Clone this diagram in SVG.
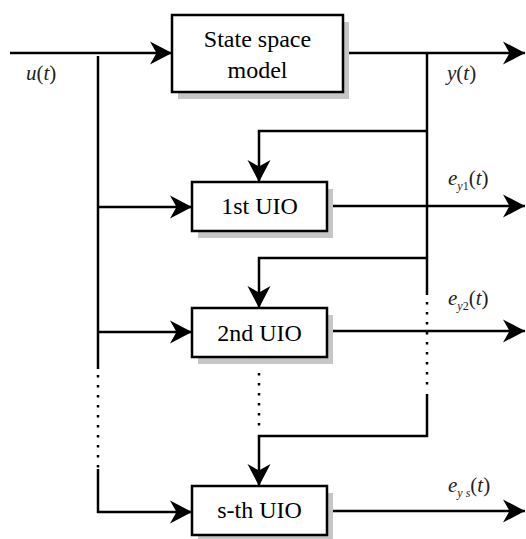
<svg xmlns="http://www.w3.org/2000/svg" width="526" height="539" viewBox="0 0 526 539">
<defs>
<marker id="arr" viewBox="-1 -13 24 26" refX="22" refY="0" markerWidth="24" markerHeight="26" markerUnits="userSpaceOnUse" orient="auto">
<path d="M0,-11.5 L22,0 L0,11.5 L6.5,0 Z" fill="#000"/>
</marker>
</defs>
<style>
.box{fill:#fff;stroke:#000;stroke-width:2.5}
.sh{fill:#c6c6c6}
.ln{fill:none;stroke:#000;stroke-width:2.5}
.dot{fill:none;stroke:#000;stroke-width:2.5;stroke-dasharray:2.5 7.5}
text{font-family:'Liberation Serif','Times New Roman',serif}
.lbl{font-size:24px;fill:#000;text-anchor:middle}
.math{font-size:21px;fill:#222}
.it{font-style:italic}
.sub{font-style:italic;font-size:12px}
.subn{font-size:12px}
</style>
<g id="connectors">
<path class="ln" d="M10,53 H172" marker-end="url(#arr)"/>
<path class="ln" d="M343,53 H525" marker-end="url(#arr)"/>
<path class="ln" d="M98,56 V369"/>
<path class="dot" d="M98,375 V470"/>
<path class="ln" d="M98,469 V512 H192" marker-end="url(#arr)"/>
<path class="ln" d="M98,207 H192" marker-end="url(#arr)"/>
<path class="ln" d="M98,332 H192" marker-end="url(#arr)"/>
<path class="ln" d="M427,53 V295"/>
<path class="dot" d="M427,302 V388"/>
<path class="ln" d="M427,394 V436 H259 V486" marker-end="url(#arr)"/>
<path class="ln" d="M427,131 H259 V182" marker-end="url(#arr)"/>
<path class="ln" d="M427,258 H259 V308" marker-end="url(#arr)"/>
<path class="dot" d="M259,373 V428"/>
<path class="ln" d="M327,206 H525" marker-end="url(#arr)"/>
<path class="ln" d="M327,331 H525" marker-end="url(#arr)"/>
<path class="ln" d="M327,511 H525" marker-end="url(#arr)"/>
</g>
<g id="ssm">
<rect class="sh" x="178" y="22" width="171" height="77"/>
<rect class="box" x="172" y="15" width="171" height="77"/>
<text class="lbl" x="257.5" y="47">State space</text>
<text class="lbl" x="257.5" y="78">model</text>
</g>
<g id="uio1">
<rect class="sh" x="198" y="189" width="135" height="49"/>
<rect class="box" x="192" y="182" width="135" height="49"/>
<text class="lbl" x="259.5" y="214">1st UIO</text>
</g>
<g id="uio2">
<rect class="sh" x="198" y="315" width="135" height="49"/>
<rect class="box" x="192" y="308" width="135" height="49"/>
<text class="lbl" x="259.5" y="341">2nd UIO</text>
</g>
<g id="uios">
<rect class="sh" x="198" y="493" width="135" height="49"/>
<rect class="box" x="192" y="486" width="135" height="49"/>
<text class="lbl" x="259.5" y="518">s-th UIO</text>
</g>
<g id="labels">
<text class="math" x="26" y="80"><tspan class="it">u</tspan>(<tspan class="it">t</tspan>)</text>
<text class="math" x="447" y="80"><tspan class="it">y</tspan>(<tspan class="it">t</tspan>)</text>
<text class="math" x="448" y="185"><tspan class="it">e</tspan><tspan class="sub" dy="5">y</tspan><tspan class="subn">1</tspan><tspan dy="-5">(</tspan><tspan class="it">t</tspan>)</text>
<text class="math" x="448" y="305"><tspan class="it">e</tspan><tspan class="sub" dy="5">y</tspan><tspan class="subn">2</tspan><tspan dy="-5">(</tspan><tspan class="it">t</tspan>)</text>
<text class="math" x="448" y="492"><tspan class="it">e</tspan><tspan class="sub" dy="5">y s</tspan><tspan dy="-5">(</tspan><tspan class="it">t</tspan>)</text>
</g>
</svg>
